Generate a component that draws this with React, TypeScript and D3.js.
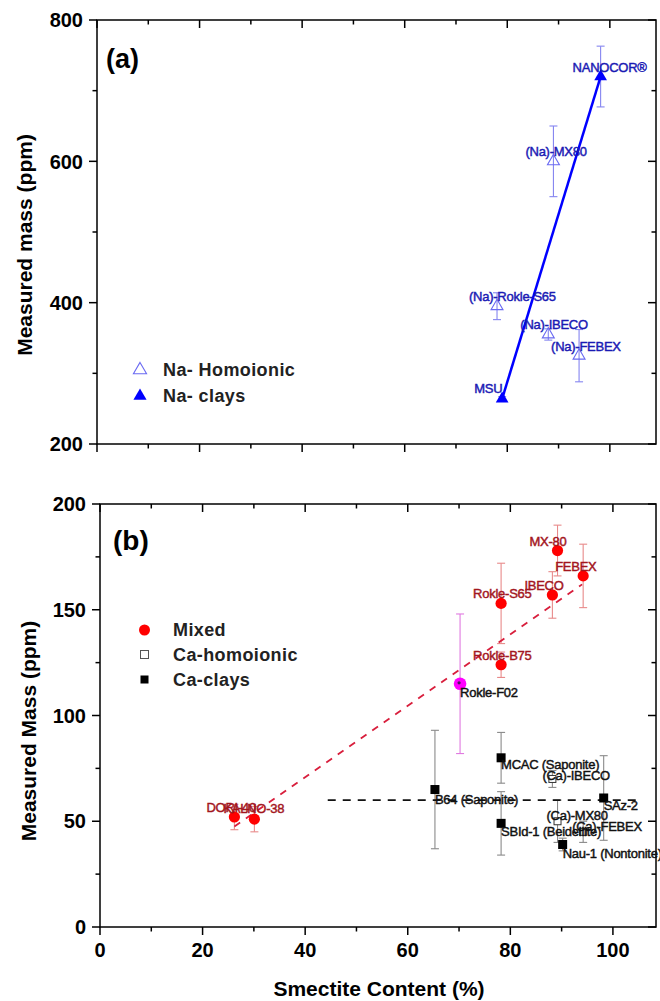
import React from "react";
import * as d3 from "d3";

// ---- data ----
type Pt = { name: string; x: number; y: number; err: number };

const naHomoionic: Pt[] = [
  { name: "(Na)-MX80", x: 89, y: 600, err: 50 },
  { name: "(Na)-Rokle-S65", x: 78, y: 395, err: 19 },
  { name: "(Na)-IBECO", x: 88, y: 355, err: 8 },
  { name: "(Na)-FEBEX", x: 94, y: 325, err: 37 },
];
const naClays: Pt[] = [
  { name: "MSU", x: 79, y: 264, err: 3 },
  { name: "NANOCOR®", x: 98.2, y: 720, err: 43 },
];

const mixed: Pt[] = [
  { name: "DORI-40", x: 26.2, y: 52, err: 6 },
  { name: "KALNO-38", x: 30.1, y: 51, err: 6 },
  { name: "Rokle-S65", x: 78.2, y: 153, err: 19 },
  { name: "Rokle-B75", x: 78.2, y: 124, err: 6 },
  { name: "IBECO", x: 88.2, y: 157, err: 11 },
  { name: "MX-80", x: 89.2, y: 178, err: 12 },
  { name: "FEBEX", x: 94.2, y: 166, err: 15 },
];
const rokleF02: Pt = { name: "Rokle-F02", x: 70.2, y: 115, err: 33 };
const caHomoionic: Pt[] = [
  { name: "(Ca)-IBECO", x: 88.2, y: 70, err: 4 },
  { name: "(Ca)-MX80", x: 89.2, y: 50, err: 10 },
  { name: "(Ca)-FEBEX", x: 94.2, y: 45, err: 5 },
];
const caClays: Pt[] = [
  { name: "B64 (Saponite)", x: 65.3, y: 65, err: 28 },
  { name: "MCAC (Saponite)", x: 78.2, y: 80, err: 12 },
  { name: "SBId-1 (Beidellite)", x: 78.2, y: 49, err: 15 },
  { name: "Nau-1 (Nontonite)", x: 90.2, y: 39, err: 3 },
  { name: "SAz-2", x: 98.2, y: 61, err: 20 },
];

// trend lines (end points)
const mixedTrend = [
  { x: 26.2, y: 47.5 },
  { x: 94, y: 162 },
];
const caTrend = [
  { x: 44.4, y: 60 },
  { x: 105.8, y: 60 },
];

const xMajor = [0, 20, 40, 60, 80, 100];
const xMinor = [10, 30, 50, 70, 90];
const yMajorA = [200, 400, 600, 800];
const yMinorA = [300, 500, 700];
const yMajorB = [0, 50, 100, 150, 200];
const yMinorB = [25, 75, 125, 175];

// label offsets from the point (px), Origin-style
const labelOffset: Record<string, [number, number]> = {
  "(Ca)-IBECO": [-10, 1],
  "(Ca)-MX80": [-11, -1],
  "(Ca)-FEBEX": [-11, -1],
  "Rokle-F02": [0, 13],
  "B64 (Saponite)": [0, 14],
  "MCAC (Saponite)": [0, 11],
  "SBId-1 (Beidellite)": [0, 13],
  "Nau-1 (Nontonite)": [0, 13],
  "SAz-2": [0, 12],
  "KALNO-38": [-31, -6],
  MSU: [-28, -6],
};
const off = (n: string): [number, number] => labelOffset[n] ?? [-28, -5];

const FONT = "Arial, 'Liberation Sans', Helvetica, sans-serif";

// ---- scales ----
const xA = d3.scaleLinear().domain([0, 109]).range([97, 656]);
const yA = d3.scaleLinear().domain([200, 800]).range([444, 20]);
const xB = d3.scaleLinear().domain([0, 108.4]).range([100, 656]);
const yB = d3.scaleLinear().domain([0, 200]).range([927, 504]);

const tri = (size: number) => d3.symbol(d3.symbolTriangle, size)()!;

const Frame = ({
  x,
  y,
  yMajor,
  yMinor,
  xLabels,
}: {
  x: d3.ScaleLinear<number, number>;
  y: d3.ScaleLinear<number, number>;
  yMajor: number[];
  yMinor: number[];
  xLabels: boolean;
}) => {
  const [x0, x1] = x.range();
  const [y0, y1] = y.range(); // y0 bottom, y1 top
  const maj = 8;
  const min = 4.5;
  return (
    <g stroke="#000" strokeWidth={1.5}>
      <rect x={x0} y={y1} width={x1 - x0} height={y0 - y1} fill="none" />
      {xMajor.map((t) => (
        <g key={`xm${t}`}>
          <line x1={x(t)} x2={x(t)} y1={y0} y2={y0 + maj} />
          <line x1={x(t)} x2={x(t)} y1={y1} y2={y1 + maj} />
          {xLabels && (
            <text
              x={x(t)}
              y={y0 + 30}
              textAnchor="middle"
              stroke="none"
              fontFamily={FONT}
              fontWeight="bold"
              fontSize={20}
            >
              {t}
            </text>
          )}
        </g>
      ))}
      {xMinor.map((t) => (
        <g key={`xn${t}`}>
          <line x1={x(t)} x2={x(t)} y1={y0} y2={y0 + min} />
          <line x1={x(t)} x2={x(t)} y1={y1} y2={y1 + min} />
        </g>
      ))}
      {yMajor.map((t) => (
        <g key={`ym${t}`}>
          <line x1={x0 - maj} x2={x0} y1={y(t)} y2={y(t)} />
          <line x1={x1 - maj} x2={x1} y1={y(t)} y2={y(t)} />
          <text
            x={x0 - 14}
            y={y(t)}
            dy="0.36em"
            textAnchor="end"
            stroke="none"
            fontFamily={FONT}
            fontWeight="bold"
            fontSize={20}
          >
            {t}
          </text>
        </g>
      ))}
      {yMinor.map((t) => (
        <g key={`yn${t}`}>
          <line x1={x0 - min} x2={x0} y1={y(t)} y2={y(t)} />
          <line x1={x1 - min} x2={x1} y1={y(t)} y2={y(t)} />
        </g>
      ))}
    </g>
  );
};

const ErrBar = ({
  d,
  x,
  y,
  color,
}: {
  d: Pt;
  x: d3.ScaleLinear<number, number>;
  y: d3.ScaleLinear<number, number>;
  color: string;
}) => {
  const cx = x(d.x);
  const t = y(d.y + d.err);
  const b = y(d.y - d.err);
  return (
    <g stroke={color} strokeWidth={1.1}>
      <line x1={cx} x2={cx} y1={t} y2={b} />
      <line x1={cx - 4} x2={cx + 4} y1={t} y2={t} />
      <line x1={cx - 4} x2={cx + 4} y1={b} y2={b} />
    </g>
  );
};

const Label = ({
  d,
  x,
  y,
  color,
}: {
  d: Pt;
  x: d3.ScaleLinear<number, number>;
  y: d3.ScaleLinear<number, number>;
  color: string;
}) => {
  const [dx, dy] = off(d.name);
  return (
    <text
      x={x(d.x) + dx}
      y={y(d.y) + dy}
      fill={color}
      stroke={color}
      strokeWidth={0.45}
      fontFamily={FONT}
      fontSize={13}
      letterSpacing={-0.25}
    >
      {d.name}
    </text>
  );
};

export default function App() {
  const naLine = d3
    .line<Pt>()
    .x((d) => xA(d.x))
    .y((d) => yA(d.y));
  const bLine = d3
    .line<{ x: number; y: number }>()
    .x((d) => xB(d.x))
    .y((d) => yB(d.y));

  const blueLab = "#1a1ab4";
  const redLab = "#a3161e";

  return (
    <svg
      width={660}
      height={1001}
      style={{ position: "absolute", left: 0, top: 0, background: "#fff" }}
    >
      <rect width={660} height={1001} fill="#fff" />

      {/* ---------- panel (a) ---------- */}
      <Frame x={xA} y={yA} yMajor={yMajorA} yMinor={yMinorA} xLabels={false} />
      <text x={106} y={68} fontFamily={FONT} fontWeight="bold" fontSize={27}>
        (a)
      </text>
      <text
        transform={`translate(32,${(yA(200) + yA(800)) / 2 + 13}) rotate(-90)`}
        textAnchor="middle"
        fontFamily={FONT}
        fontWeight="bold"
        fontSize={21}
      >
        Measured mass (ppm)
      </text>

      {naHomoionic.map((d) => (
        <ErrBar key={`e${d.name}`} d={d} x={xA} y={yA} color="#8585f0" />
      ))}
      {naClays.map((d) => (
        <ErrBar key={`e${d.name}`} d={d} x={xA} y={yA} color="#8585f0" />
      ))}
      <path d={naLine(naClays)!} fill="none" stroke="#0000ff" strokeWidth={2.5} />
      {naHomoionic.map((d) => (
        <path
          key={`t${d.name}`}
          d={tri(62)}
          transform={`translate(${xA(d.x)},${yA(d.y)})`}
          fill="none"
          stroke="#6a6af2"
          strokeWidth={1.1}
        />
      ))}
      {naClays.map((d) => (
        <path
          key={`t${d.name}`}
          d={tri(70)}
          transform={`translate(${xA(d.x)},${yA(d.y)})`}
          fill="#0000ff"
        />
      ))}
      {[...naHomoionic, ...naClays].map((d) => (
        <Label key={`l${d.name}`} d={d} x={xA} y={yA} color={blueLab} />
      ))}

      {/* legend (a) */}
      <path d={tri(75)} transform="translate(140,370)" fill="none" stroke="#6a6af2" strokeWidth={1.1} />
      <text x={163} y={376} fontFamily={FONT} fontWeight="bold" fontSize={18} letterSpacing={0.4} fill="#222">
        Na- Homoionic
      </text>
      <path d={tri(75)} transform="translate(140,396)" fill="#0000ff" />
      <text x={163} y={402} fontFamily={FONT} fontWeight="bold" fontSize={18} letterSpacing={0.4} fill="#222">
        Na- clays
      </text>

      {/* ---------- panel (b) ---------- */}
      <Frame x={xB} y={yB} yMajor={yMajorB} yMinor={yMinorB} xLabels={true} />
      <text x={113} y={550} fontFamily={FONT} fontWeight="bold" fontSize={28}>
        (b)
      </text>
      <text
        transform={`translate(36,731) rotate(-90)`}
        textAnchor="middle"
        fontFamily={FONT}
        fontWeight="bold"
        fontSize={21}
      >
        Measured Mass (ppm)
      </text>
      <text x={379} y={996} textAnchor="middle" fontFamily={FONT} fontWeight="bold" fontSize={21}>
        Smectite Content (%)
      </text>

      {mixed.map((d) => (
        <ErrBar key={`e${d.name}`} d={d} x={xB} y={yB} color="#e88a8a" />
      ))}
      <ErrBar d={rokleF02} x={xB} y={yB} color="#e07ae0" />
      {caHomoionic.map((d) => (
        <ErrBar key={`e${d.name}`} d={d} x={xB} y={yB} color="#8a8a8a" />
      ))}
      {caClays.map((d) => (
        <ErrBar key={`e${d.name}`} d={d} x={xB} y={yB} color="#8a8a8a" />
      ))}

      <path
        d={bLine(mixedTrend)!}
        fill="none"
        stroke="#d81e3c"
        strokeWidth={1.8}
        strokeDasharray="7,7"
      />
      <path
        d={bLine(caTrend)!}
        fill="none"
        stroke="#111"
        strokeWidth={1.6}
        strokeDasharray="8,7"
      />

      {mixed.map((d) => (
        <circle key={`c${d.name}`} cx={xB(d.x)} cy={yB(d.y)} r={5.6} fill="#ff0000" />
      ))}
      <circle cx={xB(rokleF02.x)} cy={yB(rokleF02.y)} r={6.3} fill="#ff00ff" />
      <circle cx={xB(rokleF02.x) - 1} cy={yB(rokleF02.y) - 1} r={1.6} fill="#4a1a5a" />
      {caHomoionic.map((d) => (
        <rect
          key={`s${d.name}`}
          x={xB(d.x) - 3.5}
          y={yB(d.y) - 3.5}
          width={7}
          height={7}
          fill="#fff"
          stroke="#333"
          strokeWidth={1}
        />
      ))}
      {caClays.map((d) => (
        <rect key={`s${d.name}`} x={xB(d.x) - 4.5} y={yB(d.y) - 4.5} width={9} height={9} fill="#000" />
      ))}

      {mixed.map((d) => (
        <Label key={`l${d.name}`} d={d} x={xB} y={yB} color={redLab} />
      ))}
      <Label d={rokleF02} x={xB} y={yB} color="#111" />
      {caHomoionic.map((d) => (
        <Label key={`l${d.name}`} d={d} x={xB} y={yB} color="#111" />
      ))}
      {caClays.map((d) => (
        <Label key={`l${d.name}`} d={d} x={xB} y={yB} color="#111" />
      ))}

      {/* legend (b) */}
      <circle cx={144.5} cy={630} r={5.5} fill="#ff0000" />
      <text x={173} y={636} fontFamily={FONT} fontWeight="bold" fontSize={18} letterSpacing={0.4} fill="#222">
        Mixed
      </text>
      <rect x={140.5} y={650.5} width={8} height={8} fill="#fff" stroke="#555" strokeWidth={1} />
      <text x={173} y={661} fontFamily={FONT} fontWeight="bold" fontSize={18} letterSpacing={0.4} fill="#222">
        Ca-homoionic
      </text>
      <rect x={140.5} y={675.5} width={8} height={8} fill="#000" />
      <text x={173} y={686} fontFamily={FONT} fontWeight="bold" fontSize={18} letterSpacing={0.4} fill="#222">
        Ca-clays
      </text>
    </svg>
  );
}
